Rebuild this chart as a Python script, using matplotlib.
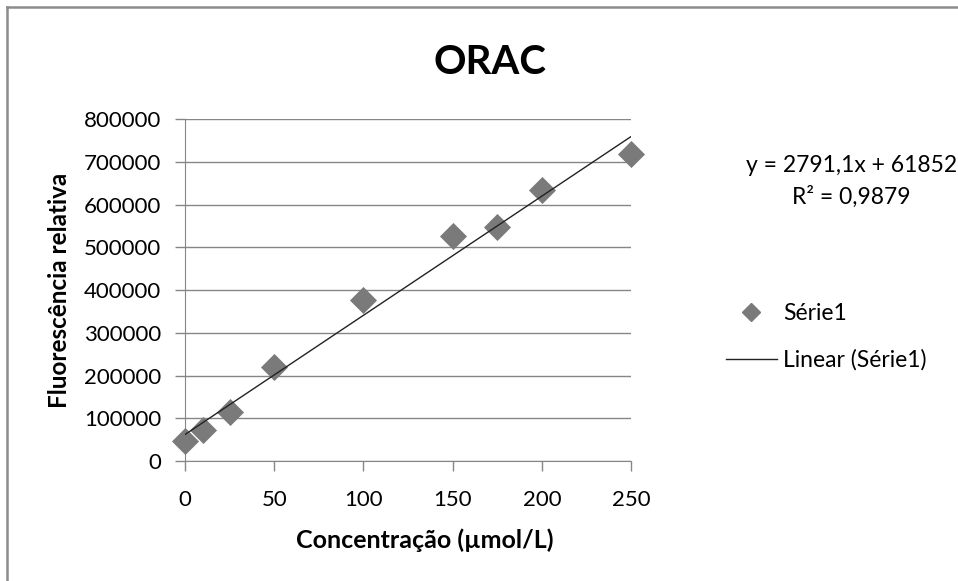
import numpy as np
import matplotlib.pyplot as plt
from matplotlib.lines import Line2D

plt.rcParams['font.family'] = ['Lato', 'DejaVu Sans']

# dados
concentracao = [0, 10, 25, 50, 100, 150, 175, 200, 250]
fluorescencia = [47000, 73600, 115000, 219000, 377000, 526000, 548000, 634000, 719000]
slope = 2791.1
intercept = 61852
eq_text = "y = 2791,1x + 61852"
r2_text = "R² = 0,9879"
y_ticks = [0, 100000, 200000, 300000, 400000, 500000, 600000, 700000, 800000]
x_ticks = [0, 50, 100, 150, 200, 250]

fig = plt.figure(figsize=(9.58, 5.81), dpi=100)
ax = fig.add_axes([0.193, 0.2065, 0.466, 0.5885])

grey = "#868686"
ax.scatter(concentracao, fluorescencia, marker="D", s=190, color="#7a7a7a",
           zorder=3, linewidths=0, clip_on=False)
xl = np.array([0, 250])
ax.plot(xl, slope * xl + intercept, color="#222222", lw=1.0, zorder=4)

ax.set_xlim(0, 250)
ax.set_ylim(0, 800000)
ax.set_xticks(x_ticks)
ax.set_yticks(y_ticks)
ax.set_xticklabels([str(t) for t in x_ticks])
ax.set_yticklabels([str(t) for t in y_ticks])
ax.grid(axis="y", color=grey, lw=1)
ax.set_axisbelow(True)
for s in ["top", "right"]:
    ax.spines[s].set_visible(False)
for s in ["left", "bottom"]:
    ax.spines[s].set_color(grey)
ax.tick_params(colors=grey, labelcolor="black", labelsize=16, length=7,
               width=1, direction="out")
ax.tick_params(axis="x", pad=14)
ax.tick_params(axis="y", pad=10)

ax.set_xlabel("Concentração (µmol/L)", fontsize=18, fontweight="bold")
ax.xaxis.set_label_coords(0.537, -0.196)
ax.set_ylabel("Fluorescência relativa", fontsize=17.5, fontweight="bold")
ax.yaxis.set_label_coords(-0.256, 0.5)
fig.text(0.511, 0.893, "ORAC", fontsize=29, fontweight="bold", ha="center", va="center")

fig.text(0.889, 0.715, eq_text, fontsize=16.5, ha="center", va="center", color="black")
fig.text(0.889, 0.662, r2_text, fontsize=16.5, ha="center", va="center", color="black")

handles = [Line2D([], [], marker="D", color="#7a7a7a", ls="none", ms=9),
           Line2D([], [], color="#222222", lw=1)]
fig.legend(handles, ["Série1", "Linear (Série1)"], loc="upper left",
           bbox_to_anchor=(0.758, 0.478), frameon=False, fontsize=16.5,
           handlelength=2.2, handletextpad=0.3, labelspacing=1.1,
           borderaxespad=0, borderpad=0)

# borda do gráfico (só topo e esquerda visíveis)
fig.add_artist(Line2D([0.0073, 1.0], [0.9875, 0.9875], transform=fig.transFigure,
                      color="#8c8c8c", lw=1.8))
fig.add_artist(Line2D([0.0073, 0.0073], [0.0, 0.9875], transform=fig.transFigure,
                      color="#8c8c8c", lw=1.8))

fig.savefig("out.png", dpi=100)
